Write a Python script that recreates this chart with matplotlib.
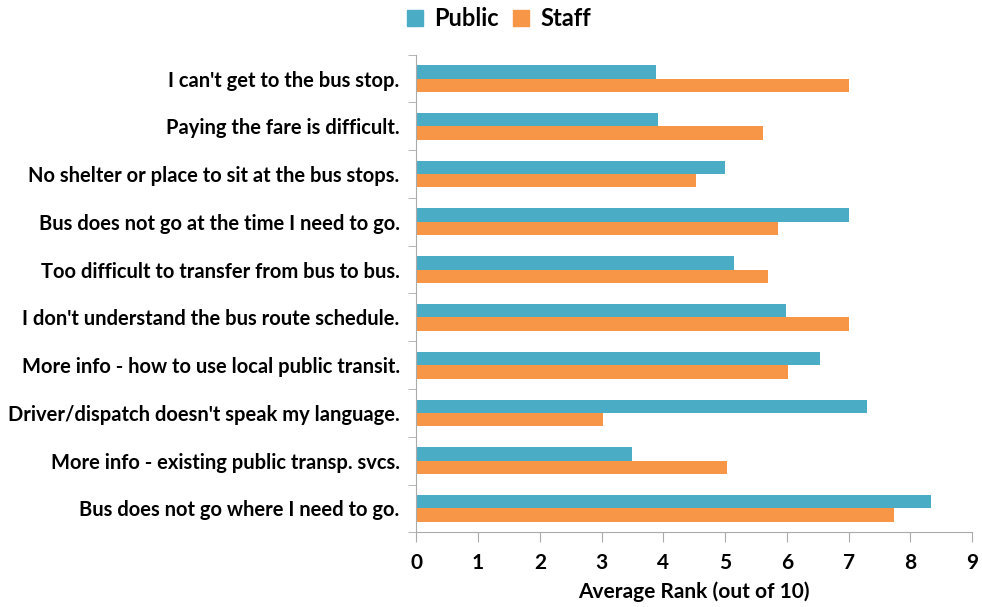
import numpy as np
import matplotlib.pyplot as plt
from matplotlib.patches import Patch

categories = [
    "I can't get to the bus stop.",
    "Paying the fare is difficult.",
    "No shelter or place to sit at the bus stops.",
    "Bus does not go at the time I need to go.",
    "Too difficult to transfer from bus to bus.",
    "I don't understand the bus route schedule.",
    "More info - how to use local public transit.",
    "Driver/dispatch doesn't speak my language.",
    "More info - existing public transp. svcs.",
    "Bus does not go where I need to go.",
]
public = [3.88, 3.91, 4.99, 7.0, 5.15, 5.99, 6.54, 7.30, 3.49, 8.34]
staff = [7.0, 5.62, 4.52, 5.85, 5.69, 7.0, 6.02, 3.02, 5.03, 7.73]

plt.rcParams['font.family'] = ['Lato', 'DejaVu Sans']
plt.rcParams['font.weight'] = 'bold'

blue = "#4BACC6"
orange = "#F79646"

fig = plt.figure(figsize=(9.82, 6.07), dpi=100)
ax = fig.add_axes([0.424, 0.123, 0.566, 0.787])

y = np.arange(len(categories))
h = 0.28
ax.barh(y - h / 2, public, height=h, color=blue)
ax.barh(y + h / 2, staff, height=h, color=orange)

ax.set_ylim(len(categories) - 0.5, -0.5)
ax.set_xlim(0, 9)
ax.set_xticks(range(10))
ax.set_yticks(y)
ax.set_yticklabels(categories, fontsize=14.5, fontweight='bold')
ax.set_yticks(np.arange(-0.5, len(categories), 1), minor=True)
ax.tick_params(axis='y', which='major', length=0, pad=12)
ax.tick_params(axis='y', which='minor', length=6, color='#aaaaaa')
ax.tick_params(axis='x', length=7, color='#aaaaaa', labelsize=15, pad=8)
for lab in ax.get_xticklabels():
    lab.set_fontweight('bold')

ax.set_xlabel("Average Rank (out of 10)", fontsize=15, fontweight='bold', labelpad=6)

for s in ['top', 'right']:
    ax.spines[s].set_visible(False)
ax.spines['left'].set_color('#aaaaaa')
ax.spines['bottom'].set_color('#aaaaaa')

handles = [Patch(color=blue, label="Public"), Patch(color=orange, label="Staff")]
fig.legend(handles=handles, loc='center', bbox_to_anchor=(0.508, 0.969), ncol=2,
           frameon=False, prop={'size': 17, 'weight': 'bold'},
           handlelength=0.7, handleheight=0.7, handletextpad=0.45, columnspacing=0.6)

fig.savefig("out.png", dpi=100)
